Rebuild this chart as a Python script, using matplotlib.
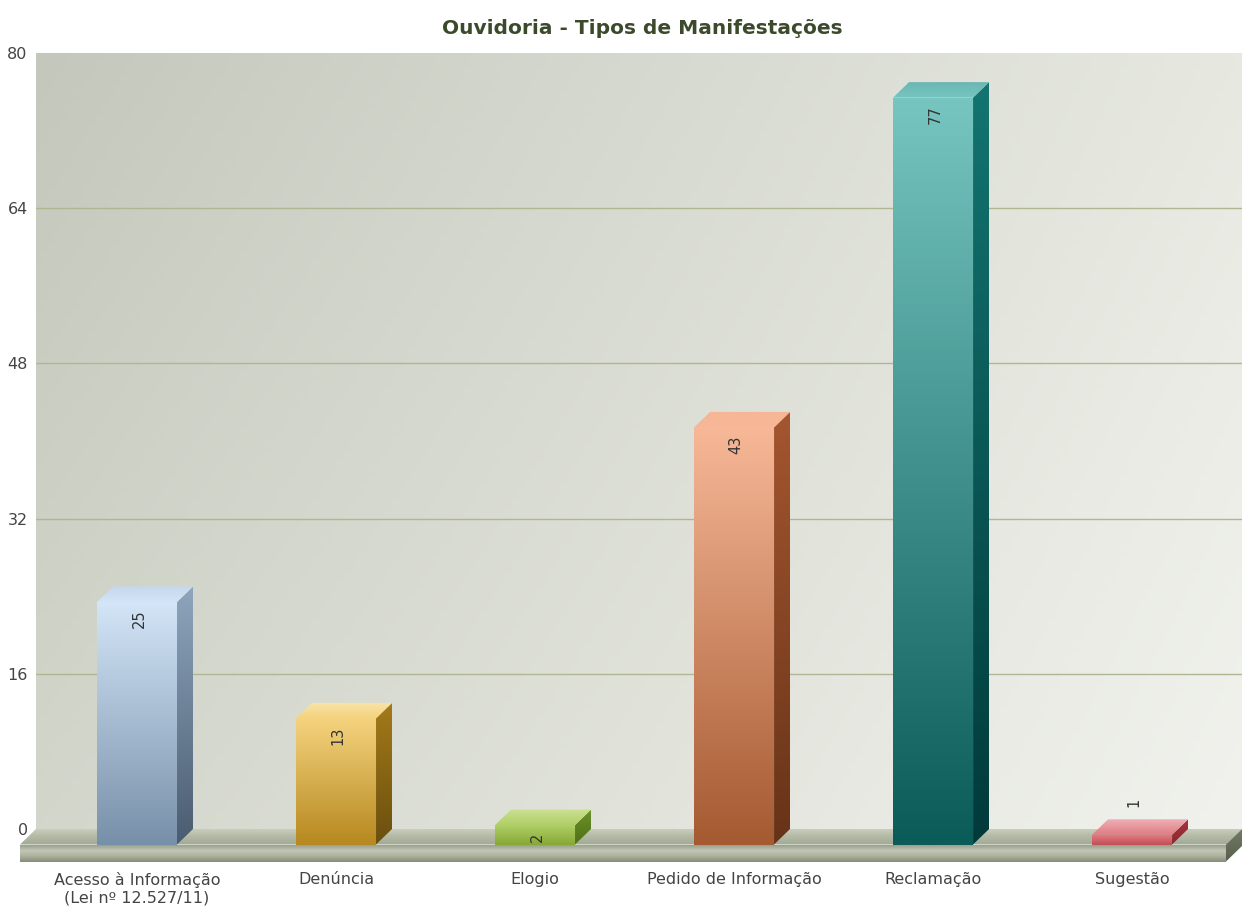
import numpy as np
import matplotlib.pyplot as plt
from matplotlib.patches import Polygon
from matplotlib.colors import to_rgb

categories = ["Acesso à Informação\n(Lei nº 12.527/11)", "Denúncia", "Elogio",
              "Pedido de Informação", "Reclamação", "Sugestão"]
values = [25, 13, 2, 43, 77, 1]
yticks = [0, 16, 32, 48, 64, 80]

# face colours per bar: front (top, bottom), side (top, bottom), top face
front_cols = [("#d3e5f7", "#7790a9"), ("#f5d37e", "#b6881f"), ("#b0cf68", "#86a834"),
              ("#f7b898", "#a55a31"), ("#76c5c1", "#0b5b59"), ("#e07a82", "#c24d57")]
side_cols = [("#8ea5bd", "#4a5c70"), ("#a47a1a", "#6a4f0e"), ("#6a9028", "#4f7018"),
             ("#a4562f", "#673318"), ("#137470", "#013a3a"), ("#a8343e", "#8a2630")]
top_cols = ["#c4d8ec", "#f9e4aa", "#cce092", "#f7b696", "#6cb6b3", "#eeb0b6"]

W, H = 1242, 908
fig = plt.figure(figsize=(W / 100, H / 100), dpi=100)
# axes = back wall of the chart
ax = fig.add_axes([36 / W, 1 - 829 / H, (1242 - 36) / W, (829 - 53) / H])
x0, x1 = -0.588, 5.472
ax.set_xlim(x0, x1)
ax.set_ylim(0, 80)

ppx = (1242 - 36) / (x1 - x0)
ppy = (829 - 53) / 80.0
dx = 16 / ppx
dy = 15.5 / ppy
bw = 80 / ppx
fh = 17 / ppy


def shade(verts, cols, vertical=True, z=3):
    poly = Polygon(verts, closed=True, transform=ax.transData)
    xs, ys = zip(*verts)
    cols = [np.array(to_rgb(c)) for c in cols]
    t = np.linspace(0, 1, 128)
    stops = np.linspace(0, 1, len(cols))
    img = np.stack([np.interp(t, stops, [c[k] for c in cols]) for k in range(3)], axis=1)
    img = img[:, None, :] if vertical else img[None, :, :]
    im = ax.imshow(img, extent=(min(xs), max(xs), min(ys), max(ys)), origin="upper",
                   aspect="auto", interpolation="bilinear", zorder=z)
    im.set_clip_path(poly)
    im.set_clip_box(fig.bbox)
    return im


# background gradient
gx = np.linspace(0, 1, 200)
gy = np.linspace(0, 1, 200)
GX, GY = np.meshgrid(gx, gy)
tl, tr = np.array(to_rgb("#c4c8bc")), np.array(to_rgb("#e7e9e1"))
bl, br = np.array(to_rgb("#d3d6cb")), np.array(to_rgb("#f1f2ed"))
bg = ((1 - GX)[..., None] * (1 - GY)[..., None] * tl + GX[..., None] * (1 - GY)[..., None] * tr
      + (1 - GX)[..., None] * GY[..., None] * bl + GX[..., None] * GY[..., None] * br)
ax.imshow(bg, extent=(x0, x1, 0, 80), origin="upper", aspect="auto", zorder=0)

for v in yticks[1:-1]:
    ax.axhline(v, color="#b1b692", lw=1.0, zorder=1)

# floor
shade([(x0, 0), (x1, 0), (x1 - dx, -dy), (x0 - dx, -dy)], ["#c9cdbd", "#b2b8a3", "#a2a994"], z=2)
shade([(x0 - dx, -dy), (x1 - dx, -dy), (x1 - dx, -dy - fh), (x0 - dx, -dy - fh)],
      ["#98a08b", "#c2c6b6", "#aab09b", "#848c78"], z=2)
shade([(x1 - dx, -dy), (x1, 0), (x1, -fh), (x1 - dx, -dy - fh)], ["#737b68", "#565e4c"], z=2)

# bars
for i, v in enumerate(values):
    xl = i - dx - bw / 2
    xr = xl + bw
    yb = -dy
    yt = v - dy
    shade([(xl, yt), (xr, yt), (xr, yb), (xl, yb)], front_cols[i], z=4)
    shade([(xr, yb), (xr + dx, yb + dy), (xr + dx, yt + dy), (xr, yt)], side_cols[i], z=4)
    shade([(xl, yt), (xr, yt), (xr + dx, yt + dy), (xl + dx, yt + dy)],
          [top_cols[i], front_cols[i][0]], z=4)
    if v >= 2:
        ax.text(i - dx + 0.01, yt - 0.8, str(v), rotation=90, ha="center", va="top",
                fontsize=10.5, color="#333333", zorder=6, clip_on=False)
    else:
        ax.text(i - dx + 0.01, yt + 2.9, str(v), rotation=90, ha="center", va="bottom",
                fontsize=10.5, color="#333333", zorder=6, clip_on=False)

# category labels
for i, c in enumerate(categories):
    ax.text(i - dx, -(872 - 829) / ppy, c, ha="center", va="top", fontsize=11.5,
            color="#444444", linespacing=1.2, clip_on=False)

ax.set_xlim(x0, x1)
ax.set_ylim(0, 80)
ax.set_xticks([])
ax.set_yticks(yticks)
ax.tick_params(axis="y", length=0, pad=6, labelsize=11.5, labelcolor="#444444")
for s in ax.spines.values():
    s.set_visible(False)

fig.text(642 / W, 1 - 28 / H, "Ouvidoria - Tipos de Manifestações", ha="center", va="center",
         fontsize=14.5, fontweight="bold", color="#3c4a2c")

fig.savefig("out.png", dpi=100, facecolor="white")
